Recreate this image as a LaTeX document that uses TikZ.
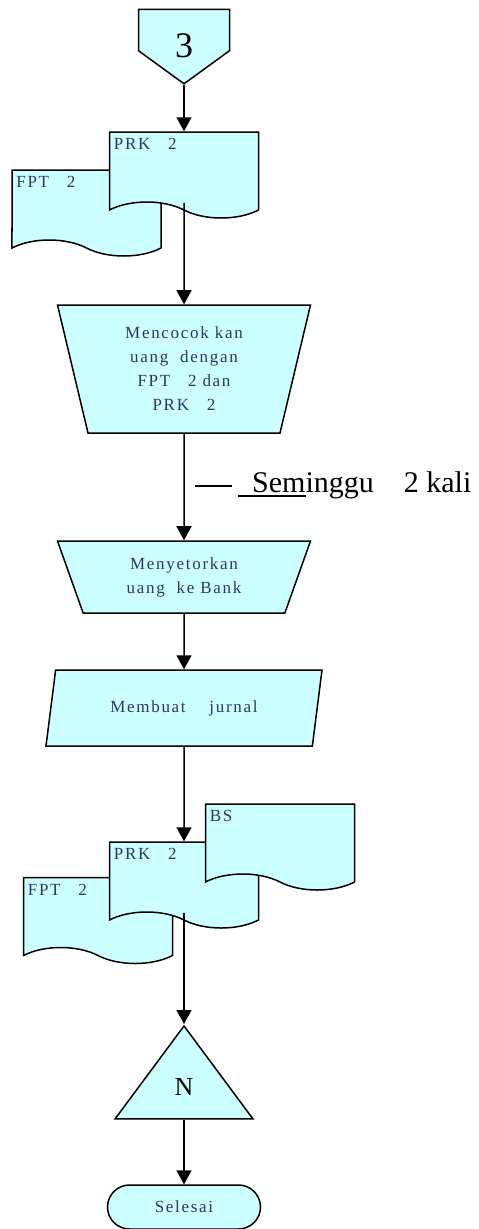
\documentclass[tikz,border=0pt]{standalone}
\usepackage{fontspec}
\setmainfont{Liberation Serif}
\newfontfamily\boxfont[LetterSpace=10]{Liberation Serif}
\usetikzlibrary{shapes.geometric,shapes.symbols,shapes.misc,arrows.meta}
\definecolor{boxfill}{RGB}{204,255,255}
\definecolor{boxink}{RGB}{45,55,95}
\newcommand{\undermark}[1]{\setbox0\hbox{#1}\rlap{\rule[-5pt]{\wd0}{1.6pt}}\box0}

\begin{document}
\begin{tikzpicture}[x=1pt,y=-1pt,
	base/.style={draw, line width=1.5pt, fill=boxfill, text=boxink,
		font=\boxfont\fontsize{17}{24}\selectfont, align=center, inner sep=0pt},
	offpage/.style={base, signal, signal to=south, signal from=nowhere,
		signal pointer angle=108, minimum width=91pt, minimum height=48pt,
		text=black, font=\fontsize{36}{36}\selectfont},
	document/.style={base, tape, tape bend top=none, tape bend bottom=out and in,
		tape bend height=16pt, minimum width=149pt, minimum height=86pt},
	doclabel/.style={anchor=north west, inner xsep=5pt, inner ysep=7pt, text=boxink,
		font=\boxfont\fontsize{17}{17}\selectfont},
	manual/.style={base, trapezium, shape border rotate=180, trapezium stretches body,
		minimum width=253pt},
	io/.style={base, trapezium, trapezium left angle=58, trapezium right angle=122,
		trapezium stretches body, minimum width=276pt, minimum height=76pt},
	archive/.style={base, isosceles triangle, shape border rotate=90,
		isosceles triangle stretches, minimum width=138pt, minimum height=93pt,
		text=black, font=\fontsize{26}{26}\selectfont},
	terminal/.style={base, rounded rectangle, minimum width=153pt, minimum height=44pt},
	flow/.style={-{Triangle[length=14pt,width=15pt]}, line width=1.5pt}
	]
	\useasboundingbox (0,0) rectangle (479,1229);
	\node (c3) [offpage] at (184,30) {\raisebox{-27pt}[0pt][0pt]{3}};
	\node (fpt1) [document, label={[doclabel]north west:FPT~~~2}] at (86.5,205) {};
	\node (prk1) [document, label={[doclabel]north west:PRK~~~2}] at (184,167) {};
	\node (cocok) [manual, trapezium left angle=70, trapezium right angle=70,
		minimum height=128pt] at (184,369) {Mencocok kan\\uang~~dengan\\FPT~~~2 dan\\PRK~~~2};
	\node (setor) [manual, trapezium left angle=57, trapezium right angle=57,
		minimum height=72pt] at (184,577) {Menyetorkan\\uang~~ke Bank};
	\node (jurnal) [io] at (184,708) {Membuat~~~~jurnal};
	\node (fpt2) [document, label={[doclabel]north west:FPT~~~2}] at (98,912.5) {};
	\node (prk2) [document, label={[doclabel]north west:PRK~~~2}] at (184,877) {};
	\node (bs) [document, label={[doclabel]north west:BS}] at (280,839) {};
	\node (arsip) [archive, anchor=apex] at (184,1024) {N};
	\node (selesai) [terminal] at (184,1207) {Selesai};
	\coordinate (notetip) at (195,486);
	\node (note) [anchor=base west, inner sep=0pt, font=\fontsize{30}{30}\selectfont]
		at (238,492) {\undermark{\hspace{14pt}Sem}inggu\quad 2 kali};
	\draw[line width=1.3pt, shorten >=6pt] (notetip) -- (notetip -| note.west);
	\draw[flow] (c3.south) -- (prk1.north);
	\draw[flow] (prk1.south) -- (cocok.north);
	\draw[flow] (cocok.south) -- (setor.north);
	\draw[flow] (setor.south) -- (jurnal.north);
	\draw[flow] (jurnal.south) -- (prk2.north);
	\draw[flow] (prk2.south) -- (arsip.apex);
	\draw[flow] (arsip.south) -- (selesai.north);
\end{tikzpicture}
\end{document}
